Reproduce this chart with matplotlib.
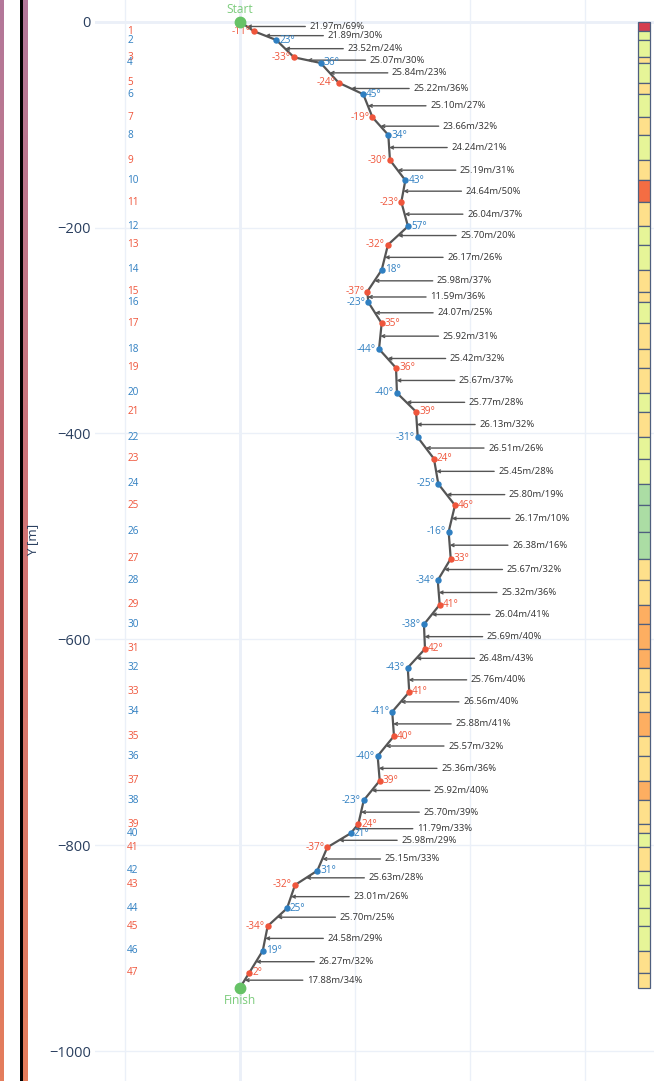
import numpy as np
import matplotlib.pyplot as plt
import matplotlib as mpl
from matplotlib.colors import LinearSegmentedColormap

# Colors
RED, BLUE = '#EF553B', '#2f7fc1'
GREEN_PT, GREEN_TXT = '#66c266', '#7ccc7c'
LINE = '#555555'
AXIS_TXT = '#2a3f5f'
GRID = '#ebf0f8'

mpl.rcParams['font.family'] = ['Open Sans', 'DejaVu Sans']

# Data: path points (Start, 1..47, Finish)
xs = [0.0, 12.2, 31.6, 47.0, 70.2, 85.9, 107.3, 115.3, 129.1, 130.5, 143.9,
      140.4, 146.2, 128.8, 123.3, 110.8, 111.7, 123.3, 121.0, 135.8, 136.6,
      153.2, 154.7, 168.8, 172.6, 187.1, 181.6, 183.4, 172.1, 173.8, 160.1,
      161.0, 146.0, 147.3, 132.5, 134.0, 119.8, 121.6, 107.7, 103.0, 96.3,
      76.0, 67.3, 47.9, 40.9, 24.1, 19.8, 8.1, 0.0]
ys = [0.0, -9.3, -17.8, -34.6, -40.1, -59.3, -70.5, -92.9, -110.1, -134.4, -154.1,
      -175.2, -198.8, -216.7, -241.2, -262.3, -272.6, -293.0, -318.0, -336.4, -360.7,
      -378.9, -403.8, -424.6, -449.1, -469.8, -495.5, -521.7, -542.7, -566.4, -585.5,
      -609.4, -627.6, -651.2, -670.4, -694.0, -713.4, -737.4, -756.4, -779.5, -788.5,
      -802.1, -824.8, -838.7, -861.4, -878.6, -902.6, -923.9, -938.5]

# turn angle at each waypoint 1..47
angles = [-11, 23, -33, 36, -24, 45, -19, 34, -30, 43, -23, 57, -32, 18, -37, -23,
          35, -44, 36, -40, 39, -31, 24, -25, 46, -16, 33, -34, 41, -38, 42, -43,
          41, -41, 40, -40, 39, -23, 24, 21, -37, 31, -32, 25, -34, 19, 2]

# segment length [m] and slope [%]
seg_len = [21.97, 21.89, 23.52, 25.07, 25.84, 25.22, 25.10, 23.66, 24.24, 25.19,
           24.64, 26.04, 25.70, 26.17, 25.98, 11.59, 24.07, 25.92, 25.42, 25.67,
           25.77, 26.13, 26.51, 25.45, 25.80, 26.17, 26.38, 25.67, 25.32, 26.04,
           25.69, 26.48, 25.76, 26.56, 25.88, 25.57, 25.36, 25.92, 25.70, 11.79,
           25.98, 25.15, 25.63, 23.01, 25.70, 24.58, 26.27, 17.88]
seg_pct = [69, 29.6, 24, 30.4, 23, 36, 27, 32, 21, 31,
           50, 37, 20, 26, 37, 36, 25, 31, 32, 37,
           28, 32, 26, 28, 19, 10, 16, 32, 36, 41,
           40.2, 43, 39.6, 39.7, 41, 32, 36, 40.3, 39, 33,
           29, 33, 28, 26, 25, 29, 32, 34]


def slope_color(p):
    if p < 20:
        return '#abdda4'
    if p < 30:
        return '#e6f598'
    if p < 40:
        return '#fee08b'
    if p < 50:
        return '#fdae61'
    if p < 60:
        return '#f46d43'
    return '#d53e4f'


W, H = 654, 1081
fig = plt.figure(figsize=(W / 100, H / 100), dpi=100)

# left decoration strips
cmap = LinearSegmentedColormap.from_list('edge', ['#b3789a', '#d27474', '#e47d5c'])
grad = np.linspace(0, 1, 256).reshape(-1, 1)
for x0, w in [(0, 4), (22.5, 4.5)]:
    a = fig.add_axes([x0 / W, 0, w / W, 1])
    a.imshow(grad, aspect='auto', cmap=cmap)
    a.axis('off')
a = fig.add_axes([20 / W, 0, 2.5 / W, 1])
a.set_facecolor('black')
a.set_xticks([]); a.set_yticks([])
for s in a.spines.values():
    s.set_visible(False)

ax = fig.add_axes([95 / W, 0, (W - 95) / W, 1])
for s in ax.spines.values():
    s.set_visible(False)
ax.set_xlim((95 - 240) / 1.149, (W - 240) / 1.149)
ax.set_ylim(-(H - 21.7) / 1.0293, 21.7 / 1.0293)

ax.set_xticks([-100, 0, 100, 200, 300])
ax.set_yticks([0, -200, -400, -600, -800, -1000])
ax.tick_params(axis='x', length=0, labelbottom=False)
ax.tick_params(axis='y', length=0, pad=3, labelsize=10.5, labelcolor=AXIS_TXT)
ax.grid(True, color=GRID, lw=1, zorder=0)
ax.axhline(0, color=GRID, lw=2, zorder=0)
ax.axvline(0, color=GRID, lw=2, zorder=0)
ax.set_axisbelow(True)
fig.text(33 / W, 1 - 540 / H, 'Y [m]', rotation=90, ha='center', va='center',
         fontsize=9.5, color=AXIS_TXT)

# path
ax.plot(xs, ys, color=LINE, lw=1.6, zorder=3)
for i, ang in enumerate(angles, start=1):
    c = RED if i % 2 else BLUE
    ax.plot(xs[i], ys[i], 'o', ms=3.6, color=c, zorder=4)
    if ang < 0:
        ax.annotate(f'{ang}°', (xs[i], ys[i]), xytext=(-3, 0), textcoords='offset pixels',
                    ha='right', va='center', fontsize=7.2, color=c, zorder=5)
    else:
        ax.annotate(f'{ang}°', (xs[i], ys[i]), xytext=(3, 0), textcoords='offset pixels',
                    ha='left', va='center', fontsize=7.2, color=c, zorder=5)
    # waypoint numbers on the left
    ax.annotate(str(i), (-100, ys[i]), xytext=(2, 0), textcoords='offset pixels',
                ha='left', va='center', fontsize=7.2, color=c)

# start / finish
ax.plot([xs[0], xs[-1]], [ys[0], ys[-1]], 'o', ms=7.5, color=GREEN_PT, zorder=5)
ax.annotate('Start', (xs[0], ys[0]), xytext=(0, 6), textcoords='offset pixels',
            ha='center', va='bottom', fontsize=8.6, color=GREEN_TXT)
ax.annotate('Finish', (xs[-1], ys[-1]), xytext=(0, -6), textcoords='offset pixels',
            ha='center', va='top', fontsize=8.6, color=GREEN_TXT)

# segment labels with arrows to segment midpoints
for k in range(len(seg_len)):
    mx = (xs[k] + xs[k + 1]) / 2
    my = (ys[k] + ys[k + 1]) / 2
    ax.annotate(f'{seg_len[k]:.2f}m/{seg_pct[k]:.0f}%', (mx, my), xytext=(90, 0),
                textcoords='offset pixels', ha='center', va='center',
                fontsize=6.8, color='#333333', zorder=2,
                arrowprops=dict(arrowstyle='->', color=LINE, lw=1,
                                mutation_scale=5, shrinkA=1, shrinkB=0))

# slope bar on the right
bx = (644 - 240) / 1.149
bw = 12 / 1.149
for k in range(len(seg_len)):
    ax.bar(bx, ys[k + 1] - ys[k], bottom=ys[k], width=bw,
           color=slope_color(seg_pct[k]), edgecolor='#4f5f7f', lw=0.9, zorder=3)

fig.savefig('out.png', dpi=100)
